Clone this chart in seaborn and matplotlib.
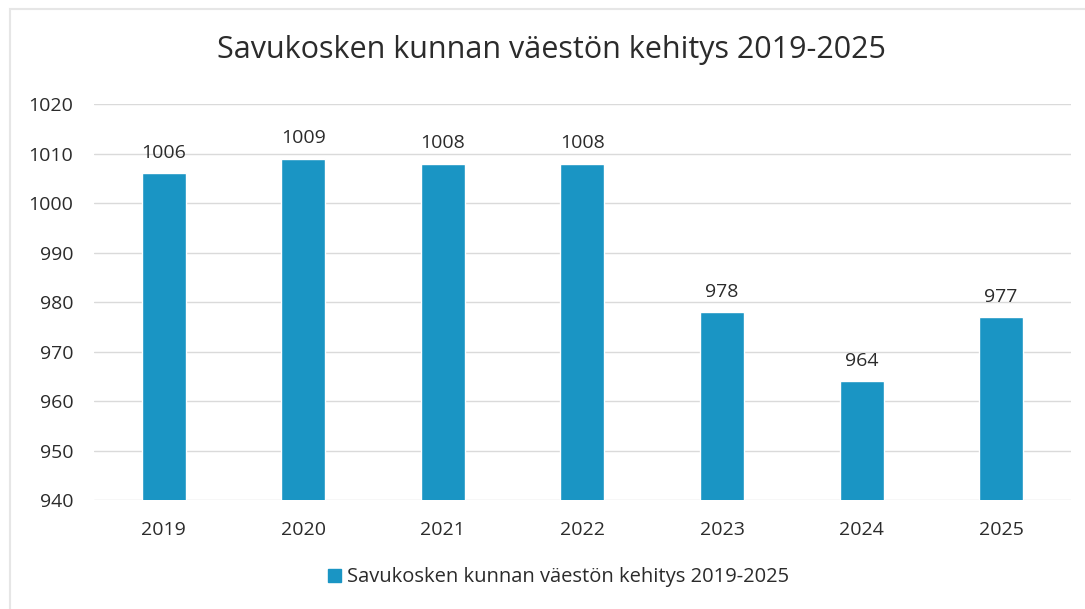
import matplotlib
matplotlib.use("Agg")
import matplotlib.pyplot as plt
import seaborn as sns
import pandas as pd
from matplotlib.patches import Rectangle

years = ["2019", "2020", "2021", "2022", "2023", "2024", "2025"]
population = [1006, 1009, 1008, 1008, 978, 964, 977]
series_name = "Savukosken kunnan väestön kehitys 2019-2025"
title = "Savukosken kunnan väestön kehitys 2019-2025"

df = pd.DataFrame({"year": years, "pop": population, "series": series_name})

sns.set_theme(style="white")
plt.rcParams['font.family'] = ['Open Sans', 'DejaVu Sans']

bar_color = "#1a95c4"
text_color = "#2b2b2b"

fig = plt.figure(figsize=(10.85, 6.09), dpi=100)
ax = fig.add_axes([0.0866, 0.179, 0.9004, 0.650])

sns.barplot(data=df, x="year", y="pop", hue="series", palette=[bar_color],
            width=0.315, ax=ax, legend=False, saturation=1)

ax.set_ylim(940, 1020)
ax.set_yticks(range(940, 1021, 10))
ax.yaxis.grid(True, color="#dadada", linewidth=1)
ax.set_axisbelow(True)
for s in ax.spines.values():
    s.set_visible(False)
ax.set_xlabel("")
ax.set_ylabel("")
ax.tick_params(axis="both", length=0, labelsize=14, colors=text_color)
ax.tick_params(axis="y", pad=15)
ax.tick_params(axis="x", pad=15)

for i, v in enumerate(population):
    ax.text(i, v + 2.3, str(v), ha="center", va="bottom", fontsize=14, color=text_color)

fig.text(0.508, 0.918, title, ha="center", va="center", fontsize=22, color=text_color)

# legend
handle = Rectangle((0, 0), 1, 1, color=bar_color)
fig.legend([handle], [series_name], loc="center", bbox_to_anchor=(0.515, 0.052),
           frameon=False, fontsize=14.5, handlelength=0.65, handleheight=0.65,
           handletextpad=0.3, labelcolor=text_color)

# chart border (faint, from scan)
fig.add_artist(Rectangle((0.009, -0.05), 1.1, 1.035, transform=fig.transFigure,
                         fill=False, edgecolor="#e6e6e6", linewidth=1.5))

fig.savefig("out.png", dpi=100, facecolor="white")
